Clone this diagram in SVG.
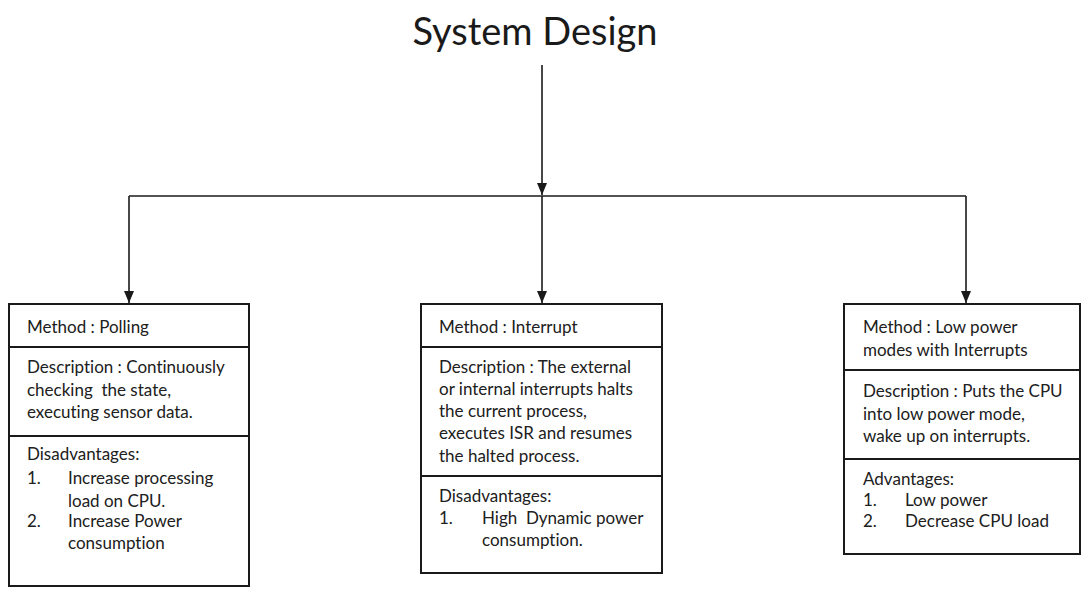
<svg xmlns="http://www.w3.org/2000/svg" width="1086" height="593" viewBox="0 0 1086 593">
  <style>
    .box { fill: #ffffff; stroke: #1a1a1a; stroke-width: 2; }
    .div { stroke: #1a1a1a; stroke-width: 2; }
    .wire { fill: none; stroke: #1a1a1a; stroke-width: 1.6; }
    .t { font-family: Lato, "Open Sans", "Liberation Sans", sans-serif; font-size: 17px; fill: #202020; white-space: pre; font-variant-ligatures: none; }
    .title { font-family: Lato, "Open Sans", "Liberation Sans", sans-serif; font-size: 38px; fill: #1a1a1a; }
  </style>
  <defs>
    <marker id="arrow" markerUnits="userSpaceOnUse" markerWidth="12" markerHeight="12" viewBox="0 0 12 12" refX="12" refY="6" orient="auto">
      <path d="M0,1 L12,6 L0,11 Z" fill="#1a1a1a"/>
    </marker>
  </defs>

  <rect width="1086" height="593" fill="#ffffff"/>

  <g id="title">
    <text class="title" x="535" y="45" text-anchor="middle">System Design</text>
  </g>

  <g id="connectors">
    <path class="wire" d="M542,65 V195" marker-end="url(#arrow)"/>
    <path class="wire" d="M129,196 H966"/>
    <path class="wire" d="M129,196 V303" marker-end="url(#arrow)"/>
    <path class="wire" d="M542,196 V303" marker-end="url(#arrow)"/>
    <path class="wire" d="M966,196 V303" marker-end="url(#arrow)"/>
  </g>

  <g id="polling">
    <rect class="box" x="9" y="304" width="240" height="282"/>
    <line class="div" x1="9" y1="347" x2="249" y2="347"/>
    <line class="div" x1="9" y1="436" x2="249" y2="436"/>
    <text class="t" x="27" y="333">Method : Polling</text>
    <text class="t" x="27" y="373">Description : Continuously</text>
    <text class="t" x="27" y="396">checking  the state,</text>
    <text class="t" x="27" y="418">executing sensor data.</text>
    <text class="t" x="27" y="460">Disadvantages:</text>
    <text class="t" x="27" y="484">1.</text>
    <text class="t" x="68" y="484">Increase processing</text>
    <text class="t" x="68" y="507">load on CPU.</text>
    <text class="t" x="27" y="527">2.</text>
    <text class="t" x="68" y="527">Increase Power</text>
    <text class="t" x="68" y="549">consumption</text>
  </g>

  <g id="interrupt">
    <rect class="box" x="421" y="304" width="241" height="269"/>
    <line class="div" x1="421" y1="347" x2="662" y2="347"/>
    <line class="div" x1="421" y1="476" x2="662" y2="476"/>
    <text class="t" x="439" y="333">Method : Interrupt</text>
    <text class="t" x="439" y="373">Description : The external</text>
    <text class="t" x="439" y="395">or internal interrupts halts</text>
    <text class="t" x="439" y="417">the current process,</text>
    <text class="t" x="439" y="439">executes ISR and resumes</text>
    <text class="t" x="439" y="462">the halted process.</text>
    <text class="t" x="439" y="502">Disadvantages:</text>
    <text class="t" x="439" y="524">1.</text>
    <text class="t" x="482" y="524">High  Dynamic power</text>
    <text class="t" x="482" y="546">consumption.</text>
  </g>

  <g id="low-power">
    <rect class="box" x="844" y="304" width="236" height="250"/>
    <line class="div" x1="844" y1="370" x2="1080" y2="370"/>
    <line class="div" x1="844" y1="459" x2="1080" y2="459"/>
    <text class="t" x="863" y="333">Method : Low power</text>
    <text class="t" x="863" y="356">modes with Interrupts</text>
    <text class="t" x="863" y="397">Description : Puts the CPU</text>
    <text class="t" x="863" y="420">into low power mode,</text>
    <text class="t" x="863" y="442">wake up on interrupts.</text>
    <text class="t" x="863" y="485">Advantages:</text>
    <text class="t" x="863" y="506">1.</text>
    <text class="t" x="905" y="506">Low power</text>
    <text class="t" x="863" y="527">2.</text>
    <text class="t" x="905" y="527">Decrease CPU load</text>
  </g>
</svg>
